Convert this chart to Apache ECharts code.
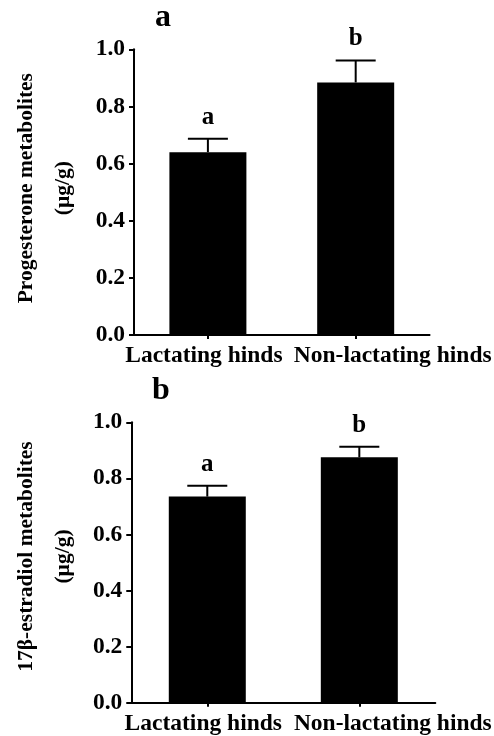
<!DOCTYPE html>
<html>
<head>
<meta charset="utf-8">
<script src="https://cdn.jsdelivr.net/npm/echarts@6/dist/echarts.min.js"></script>
<style>
html,body{margin:0;padding:0;background:#fff;}
#chart{width:494px;height:736px;}
</style>
</head>
<body>
<div id="chart"></div>
<script>
// ---- data ----
const categories = ['Lactating hinds', 'Non-lactating hinds'];
const progMean = [0.640, 0.884];
const progErr = [0.047, 0.077];
const progLetters = ['a', 'b'];
const estrMean = [0.735, 0.875];
const estrErr = [0.039, 0.038];
const estrLetters = ['a', 'b'];
const panelTitles = ['a', 'b'];
const yNames = ['Progesterone metabolites\n(µg/g)', '17β-estradiol metabolites\n(µg/g)'];

const FONT = '"Liberation Serif", "Times New Roman", serif';

const chart = echarts.init(document.getElementById('chart'), null, {renderer: 'canvas'});

function errSeries(idx, means, errs, letters) {
  return {
    type: 'custom',
    xAxisIndex: idx, yAxisIndex: idx,
    z: 5,
    encode: {x: 0, y: 1},
    data: means.map((m, i) => [i, m, errs[i]]),
    renderItem: function (params, api) {
      const x = api.value(0), m = api.value(1), e = api.value(2);
      const p0 = api.coord([x, m]);
      const p1 = api.coord([x, m + e]);
      const half = 20;
      return {
        type: 'group',
        children: [
          {type: 'line', shape: {x1: p0[0], y1: p0[1], x2: p1[0], y2: p1[1]}, style: {stroke: '#000', lineWidth: 2}},
          {type: 'line', shape: {x1: p1[0] - half, y1: p1[1], x2: p1[0] + half, y2: p1[1]}, style: {stroke: '#000', lineWidth: 2}},
          {type: 'text', style: {text: letters[params.dataIndex], x: p1[0], y: p1[1] - 9, align: 'center', verticalAlign: 'bottom', font: 'bold 25px ' + FONT, fill: '#000'}}
        ]
      };
    }
  };
}

function xAxis(idx, shiftL, shiftR) {
  return {
    type: 'category', gridIndex: idx, data: categories,
    axisLine: {lineStyle: {color: '#000', width: 2}},
    axisTick: {show: true, alignWithLabel: true, length: 4, lineStyle: {color: '#000', width: 2}},
    axisLabel: {
      interval: 0, margin: 9, color: '#000',
      formatter: function (v, i) { return i === 0 ? '{l|' + v + '}' : '{r|' + v + '}'; },
      rich: {
        l: {fontFamily: FONT, fontWeight: 'bold', fontSize: 23.5, color: '#000', padding: [0, shiftL, 0, 0]},
        r: {fontFamily: FONT, fontWeight: 'bold', fontSize: 23.5, color: '#000', padding: [0, 0, 0, shiftR]}
      }
    }
  };
}

function yAxis(idx, gap, padUp) {
  return {
    type: 'value', gridIndex: idx, min: 0, max: 1, interval: 0.2,
    name: yNames[idx], nameLocation: 'middle', nameRotate: 90, nameGap: gap,
    nameTextStyle: {fontFamily: FONT, fontWeight: 'bold', fontSize: 21.5, color: '#000', lineHeight: 37, padding: [0, 0, 0, padUp]},
    splitLine: {show: false},
    axisLine: {show: true, lineStyle: {color: '#000', width: 2}},
    axisTick: {show: true, length: 5, lineStyle: {color: '#000', width: 2}},
    axisLabel: {margin: 9, color: '#000', fontFamily: FONT, fontWeight: 'bold', fontSize: 23.5,
      formatter: function (v) { return v.toFixed(1); }}
  };
}

chart.setOption({
  animation: false,
  backgroundColor: '#fff',
  title: [
    {text: panelTitles[0], left: 155, top: 1.5, padding: 0, textStyle: {fontFamily: FONT, fontWeight: 'bold', fontSize: 32, color: '#000'}},
    {text: panelTitles[1], left: 152, top: 375, padding: 0, textStyle: {fontFamily: FONT, fontWeight: 'bold', fontSize: 32, color: '#000'}}
  ],
  grid: [
    {left: 133, right: 63, top: 49.3, bottom: 401},
    {left: 130, right: 57, top: 422.3, bottom: 33.3}
  ],
  xAxis: [xAxis(0, 8, 74), xAxis(1, 8, 67)],
  yAxis: [yAxis(0, 52, 8), yAxis(1, 49, 12)],
  series: [
    {type: 'bar', xAxisIndex: 0, yAxisIndex: 0, data: progMean, barWidth: 77, itemStyle: {color: '#000'}},
    errSeries(0, progMean, progErr, progLetters),
    {type: 'bar', xAxisIndex: 1, yAxisIndex: 1, data: estrMean, barWidth: 77, itemStyle: {color: '#000'}},
    errSeries(1, estrMean, estrErr, estrLetters)
  ]
});
</script>
</body>
</html>
